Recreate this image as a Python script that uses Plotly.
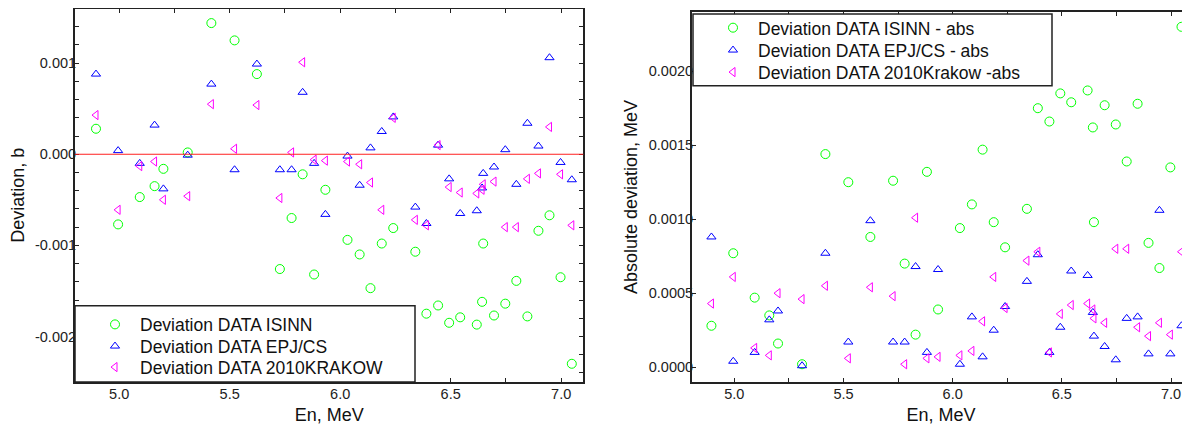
import numpy as np
import plotly.graph_objects as go

# ---------------- data ----------------
energy = [4.895, 4.995, 5.093, 5.160, 5.200, 5.310, 5.417, 5.522, 5.623, 5.727,
          5.780, 5.830, 5.882, 5.933, 6.033, 6.088, 6.137, 6.188, 6.240, 6.340,
          6.390, 6.443, 6.493, 6.543, 6.618, 6.642, 6.647, 6.696, 6.747, 6.797,
          6.847, 6.897, 6.947, 6.997, 7.048]

dev_isinn = [0.00028, -0.00077, -0.00047, -0.00035, -0.00016, 0.00002, 0.00144, 0.00125, 0.00088, -0.00126,
             -0.00070, -0.00022, -0.00132, -0.00039, -0.00094, -0.00110, -0.00147, -0.00098, -0.00081, -0.00107,
             -0.00175, -0.00166, -0.00185, -0.00179, -0.00187, -0.00162, -0.00098, -0.00177, -0.00164, -0.00139,
             -0.00178, -0.00084, -0.00067, -0.00135, -0.00230]

dev_epj = [0.00088, 0.00004, -0.00010, 0.00032, -0.00038, -0.00001, 0.00077, -0.00017, 0.00099, -0.00017,
           -0.00017, 0.00068, -0.00010, -0.00066, -0.00002, -0.00034, 0.00007, 0.00025, 0.00041, -0.00058,
           -0.00076, 0.00010, -0.00027, -0.00065, -0.00062, -0.00037, -0.00021, -0.00014, 0.00005, -0.00033,
           0.00034, 0.00009, 0.00106, -0.00009, -0.00028]

dev_krakow = [0.00043, -0.00061, -0.00013, -0.00008, -0.00050, -0.00046, 0.00055, 0.00006, 0.00054, -0.00048,
              0.00002, 0.00101, -0.00006, -0.00007, -0.00008, -0.00011, -0.00031, -0.00061, 0.00040, -0.00072,
              -0.00078, 0.00010, -0.00036, -0.00042, -0.00043, -0.00039, -0.00033, -0.00030, -0.00080, -0.00080,
              -0.00027, -0.00021, 0.00030, -0.00022, -0.00078]

names_left = ["Deviation DATA ISINN", "Deviation DATA EPJ/CS", "Deviation DATA 2010KRAKOW"]
names_right = ["Deviation DATA ISINN - abs", "Deviation DATA EPJ/CS - abs", "Deviation DATA 2010Krakow -abs"]

x_tickvals = [5.0, 5.5, 6.0, 6.5, 7.0]
y_left_tickvals = [-0.002, -0.001, 0.0, 0.001]
y_left_ticktext = ["-0.002", "-0.001", "0.000", "0.001"]
y_right_tickvals = [0.0, 0.0005, 0.0010, 0.0015, 0.0020]
y_right_ticktext = ["0.0000", "0.0005", "0.0010", "0.0015", "0.0020"]

# ---------------- styling ----------------
OFF = 8                      # page offset of the plot div
W, H = 1182, 420
FONT = "Liberation Sans, Arial, sans-serif"
AX = "#222222"
colors = ["#00ff00", "#0000ff", "#ff00ff"]
symbols = ["circle-open", "triangle-up-open", "triangle-left-open"]
sizes = [9, 8, 8]

def px_x(p):
    return min(max((p - OFF) / W, 0.0), 1.0)

def px_y(p):
    return min(max(1 - (p - OFF) / H, 0.0), 1.0)

fig = go.Figure()

series = [dev_isinn, dev_epj, dev_krakow]
left_legends = ["legend", "legend2", "legend3"]
right_legends = ["legend4", "legend5", "legend6"]
for i, s in enumerate(series):
    fig.add_trace(go.Scatter(
        x=energy, y=s, mode="markers", name=names_left[i], showlegend=True,
        marker=dict(symbol=symbols[i], size=sizes[i], color=colors[i],
                    line=dict(color=colors[i], width=1)),
        xaxis="x", yaxis="y", legend=left_legends[i]))
for i, s in enumerate(series):
    fig.add_trace(go.Scatter(
        x=energy, y=np.abs(np.array(s)), mode="markers", name=names_right[i], showlegend=True,
        marker=dict(symbol=symbols[i], size=sizes[i], color=colors[i],
                    line=dict(color=colors[i], width=1)),
        xaxis="x2", yaxis="y2", legend=right_legends[i]))

tickfont = dict(family=FONT, size=14.5, color=AX)
titlefont = dict(family=FONT, size=18, color="#111111")
legfont = dict(family=FONT, size=17.5, color="#111111")

common_x = dict(tickmode="array", tickvals=x_tickvals, tickformat=".1f",
                ticks="inside", ticklen=4, tickwidth=1, tickcolor=AX,
                minor=dict(dtick=0.25, tick0=5.0, ticks="inside", ticklen=4, tickcolor=AX),
                showline=True, linewidth=2, linecolor=AX, showgrid=False, zeroline=False,
                tickfont=tickfont, automargin=False, ticklabelstandoff=-2)

def leg(xp, yp):
    return dict(x=px_x(xp), y=px_y(yp), xanchor="left", yanchor="top",
                bgcolor="rgba(0,0,0,0)", borderwidth=0, itemwidth=40, font=legfont)

# legend row centres (reference pixels): left 325, 346.7, 367.7 ; right 28.3, 50.7, 72.7
fig.update_layout(
    width=W, height=H,
    showlegend=True,
    margin=dict(l=0, r=0, t=0, b=0),
    paper_bgcolor="white", plot_bgcolor="white",
    font=dict(family=FONT, color=AX),
    xaxis=dict(domain=[px_x(75), px_x(583.3)], range=[4.8, 7.1], anchor="y",
               mirror="allticks",
               title=dict(text="En, MeV", font=titlefont, standoff=7),
               **common_x),
    yaxis=dict(domain=[px_y(382), px_y(8.5)], range=[-0.0025, 0.0016], anchor="x",
               tickmode="array", tickvals=y_left_tickvals, ticktext=y_left_ticktext,
               ticks="inside", ticklen=4, tickwidth=1, tickcolor=AX,
               minor=dict(dtick=0.0002, tick0=0, ticks="inside", ticklen=4, tickcolor=AX),
               showline=True, linewidth=2, linecolor=AX, mirror="allticks",
               showgrid=False, zeroline=False, tickfont=tickfont, automargin=False,
               ticklabelstandoff=-6,
               title=dict(text="Deviation, b", font=titlefont, standoff=8)),
    xaxis2=dict(domain=[px_x(692), 1.0], range=[4.806, 7.087], anchor="y2",
                mirror="allticks",
                title=dict(text="En, MeV", font=titlefont, standoff=7),
                **common_x),
    yaxis2=dict(domain=[px_y(382), px_y(12)], range=[-0.0001, 0.0024], anchor="x2",
                tickmode="array", tickvals=y_right_tickvals, ticktext=y_right_ticktext,
                ticks="inside", ticklen=4, tickwidth=1, tickcolor=AX,
                showline=True, linewidth=2, linecolor=AX, mirror=False,
                showgrid=False, zeroline=False, tickfont=tickfont, automargin=False,
                ticklabelstandoff=-6,
                title=dict(text="Absolute deviation, MeV", font=titlefont, standoff=6)),
    legend=leg(90, 325 - 18.5),
    legend2=leg(90, 346.7 - 18.5),
    legend3=leg(90, 367.7 - 18.5),
    legend4=leg(708, 28.3 - 18.5),
    legend5=leg(708, 50.7 - 18.5),
    legend6=leg(708, 72.7 - 18.5),
)

# zero reference line in left panel
fig.add_shape(type="line", xref="x domain", yref="y", x0=0, x1=1, y0=0, y1=0,
              line=dict(color="#ff2020", width=1), layer="above")

# legend frames
fig.add_shape(type="rect", xref="paper", yref="paper",
              x0=px_x(75), x1=px_x(415), y0=px_y(382), y1=px_y(305.7),
              line=dict(color=AX, width=1.5), fillcolor="white", layer="above")
fig.add_shape(type="rect", xref="paper", yref="paper",
              x0=px_x(693), x1=px_x(1052), y0=px_y(85.7), y1=px_y(14),
              line=dict(color=AX, width=1.5), fillcolor="white", layer="above")

fig.write_html("out.html")
